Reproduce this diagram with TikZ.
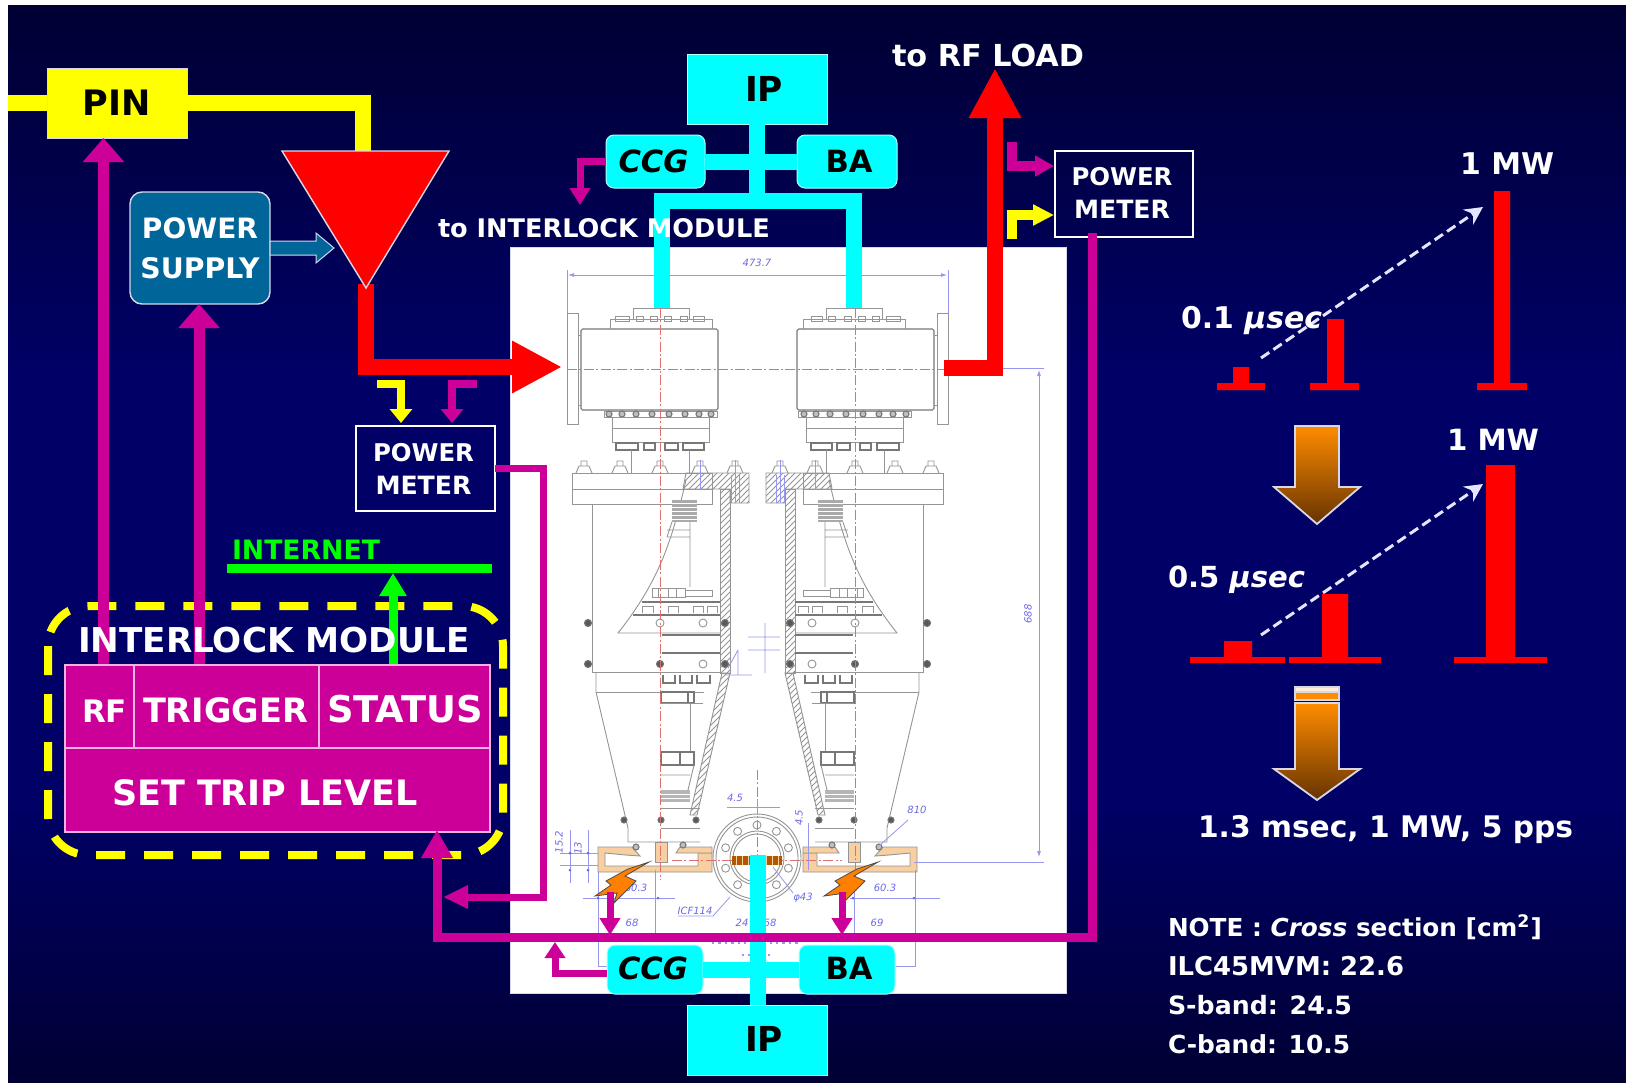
\documentclass[tikz,border=0pt]{standalone}
\usepackage{fontspec}
\setmainfont{DejaVu Sans}
\usetikzlibrary{arrows.meta,patterns,calc}
\definecolor{navyd}{HTML}{000033}
\definecolor{navym}{HTML}{000066}
\definecolor{mag}{HTML}{CC0099}
\definecolor{cya}{HTML}{00FFFF}
\definecolor{yel}{HTML}{FFFF00}
\definecolor{psblue}{HTML}{006699}
\definecolor{edge}{HTML}{D8D8E8}
\definecolor{cadg}{HTML}{959595}
\definecolor{dimb}{HTML}{6A6AE8}
\definecolor{ctrr}{HTML}{E07070}
\definecolor{cu}{HTML}{F7CFA0}
\pgfdeclareverticalshading{slidebg}{100bp}{color(0bp)=(navyd); color(25bp)=(navyd); color(38bp)=(navym); color(58bp)=(navym); color(75bp)=(navyd); color(100bp)=(navyd)}
\newcommand\fw[2]{\resizebox{\dimexpr #1pt/2\relax}{!}{#2}}
\tikzset{
  wh/.style={text=white,font=\bfseries,inner sep=0pt,outer sep=0pt,anchor=base west},
  boxnode/.style={inner sep=0pt,outer sep=0pt,font=\bfseries,align=center},
  cyanbox/.style={boxnode,fill=cya,draw=white!70!cya,line width=.5pt,rounded corners=4pt,text=black},
  plainbox/.style={boxnode,fill=cya,draw=white!70!cya,line width=.5pt,text=black},
  meterbox/.style={boxnode,draw=white,line width=.8pt,text=white,font=\bfseries\fontsize{12}{16.5}\selectfont},
  modcell/.style={boxnode,fill=mag,draw=white!70!mag,line width=.7pt},
  cyanwire/.style={draw=cya,line width=8pt},
  yelwire/.style={draw=yel,line width=8pt},
  redwire/.style={draw=red,line width=8pt},
  magbig/.style={draw=mag,line width=5.5pt,-{Triangle[length=12pt,width=20pt]}},
  magthin/.style={draw=mag,line width=4pt,-{Triangle[length=7pt,width=11pt]}},
  dashw/.style={draw=white!90!blue,line width=1.5pt,dash pattern=on 5pt off 2.5pt,-{Stealth[length=9pt,width=9pt]}},
  bigdown/.style={draw=edge,line width=.9pt,top color=orange!90!yellow,bottom color=black!60!orange},
  cad/.style={draw=cadg,line width=.45pt},
  cadk/.style={draw=cadg!80!black,line width=.55pt},
  dim/.style={draw=dimb!70,line width=.4pt},
  ctr/.style={draw=ctrr,line width=.4pt,dash pattern=on 5pt off 1.2pt on 1pt off 1.2pt},
  hat/.style={cad,pattern=north east lines,pattern color=cadg},
  dtxt/.style={text=dimb,font=\itshape\fontsize{5}{6}\selectfont,inner sep=0pt},
}
\newcommand\cadhalf{%
  \draw[cad] (567,313) rectangle (578,424);
  \draw[cadk,rounded corners=.8pt] (581,329) rectangle (718,410);
  \draw[cad] (578,335)--(581,335) (578,405)--(581,405);
  \draw[cad] (610,329)--(610,319)--(712,319)--(712,329);
  \draw[cad] (633,319)--(633,308)--(689,308)--(689,319);
  \foreach \a/\b in {615/629,636/643,650/657,664/671,680/687,693/704}{\draw[cad] (\a,316) rectangle (\b,321);}
  \draw[cad] (604,411) rectangle (717,417);
  \foreach \a in {609,622,636,652,669,685,699,711}{\filldraw[cadk,fill=cadg!60] (\a,414) circle (3);}
  \draw[cad] (612,417) rectangle (709,442) (612,428)--(709,428);
  \foreach \a/\b in {616/638,644/655,665/678,683/704}{\draw[cadk] (\a,443) rectangle (\b,450);}
  \draw[cad] (631,450)--(631,473) (689,450)--(689,473);
  \draw[cad] (572,473) rectangle (712,504) (572,489)--(712,489);
  \path[hat] (686,473)--(749,473)--(749,503)--(730,503)--(730,489)--(683,489)--cycle;
  \foreach \a in {584,620,660,700,735}{\draw[cad] (\a-8,473)--(\a-5,466)--(\a+5,466)--(\a+8,473) (\a-3,466)--(\a-3,461)--(\a+3,461)--(\a+3,466);}
  \draw[dim] (700,460)--(700,490) (735,460)--(735,503) (731,475)--(731,503) (739,475)--(739,503);
  \path[hat] (720,489) rectangle (730,673);
  \path[hat] (722,673)--(730,673)--(697,815)--(690,815)--cycle;
  \draw[cad] (686,480) .. controls (672,540) and (660,580) .. (618,633) -- (720,633);
  \fill[cadg!80] (672,500) rectangle (697,522);
  \foreach \a in {503,507,511,515,519}{\draw[white,line width=.3pt] (672,\a)--(697,\a);}
  \draw[cad] (672,522)--(667,537) (667,530)--(690,530) (667,537)--(690,537) (690,522)--(690,587);
  \draw[cad] (652,588) rectangle (685,597) (658,588)--(658,597) (668,588)--(668,597) (676,588)--(676,597);
  \draw[cad] (685,590) rectangle (712,596);
  \draw[cadk] (642,602)--(720,602);
  \foreach \a/\b in {642/653,668/678,693/703,707/717}{\draw[cad] (\a,613)--(\a,606)--(\b,606)--(\b,613);}
  \draw[cadk] (633,615)--(720,615);
  \draw[cad] (592,504)--(592,672)--(722,672);
  \draw[cadk] (662,635)--(720,635) (662,653)--(720,653);
  \foreach \a/\b in {588/623,588/664,660/664,725/623,725/664}{\filldraw[cadk,fill=cadg!60!black] (\a,\b) circle (3.5);}
  \foreach \a/\b in {703/623,703/664,660/623}{\draw[cad] (\a,\b) circle (4);}
  \draw[cad] (596,672)--(596,692)--(628,828)--(628,842)--(700,842);
  \draw[cad] (596,692)--(704,692);
  \foreach \a/\b in {663/675,680/692,697/710}{\draw[cadk] (\a,675)--(\a,683)--(\b,683)--(\b,675);}
  \draw[cadk] (661,692) rectangle (694,703) (688,692)--(688,703);
  \draw[cad] (690,703)--(690,752) (661,703)--(703,703);
  \draw[cadk] (661,752) rectangle (694,765) (680,752)--(680,765);
  \draw[cad] (661,775)--(690,775) (694,765)--(688,790);
  \fill[cadg!70] (661,790) rectangle (690,802);
  \draw[white,line width=.3pt] (661,794)--(690,794) (661,798)--(690,798);
  \draw[cad] (661,808)--(700,808) (661,828)--(700,828);
  \foreach \a in {624,661,696}{\filldraw[cadk,fill=cadg!60!black] (\a,820) circle (3);}
  \filldraw[cad,fill=cu] (598,872)--(598,847)--(632,847)--(640,856)--(626,855)--(605,853)--(605,866)--(698,866)--(698,853)--(712,853)--(712,872)--cycle;
  \filldraw[cad,fill=cu] (676,853)--(680,847)--(712,847)--(712,853)--cycle;
  \filldraw[cad,fill=cu] (655,842) rectangle (667,862);
  \filldraw[cadk,fill=cadg!60] (636,847) circle (3) (683,845) circle (3);
  \draw[ctr] (660,308)--(660,880);
}
\begin{document}
\begin{tikzpicture}[x=0.5pt,y=-0.5pt]
\useasboundingbox (0,0) rectangle (1626,1082);
\fill[white] (0,0) rectangle (1626,1082);
\shade[shading=slidebg] (8,5) rectangle (1626,1082);
% white drawing panel
\path[fill=white,draw=edge,line width=.5pt] (510,247) rectangle (1066,993);
\cadhalf
\begin{scope}[shift={(1515,0)},xscale=-1]
\cadhalf
\end{scope}
% drawing: centre parts
\draw[ctr] (567,369)--(1003,369);
\draw[ctr] (757,770)--(757,880) (672,860)--(842,860);
\foreach \r in {44,41,27,24}{\draw[cad] (757,858) circle (\r);}
\foreach \t in {18,54,90,126,162,198,234,270,306,342}{\draw[cad] ($(757,858)+(\t:33)$) circle (4);}
\fill[orange!70!black] (732,856) rectangle (782,865);
\foreach \a in {736,742,748,766,772,778}{\draw[cu,line width=.5pt] (\a,856)--(\a,865);}
% drawing: dimensions
\draw[dim,{Latex[length=3pt,width=2pt]}-{Latex[length=3pt,width=2pt]}] (568,275)--(947,275);
\draw[dim] (567,270)--(567,313) (948,270)--(948,313);
\node[dtxt] (d4737) at (757,263) {473.7};
\draw[dim,{Latex[length=3pt,width=2pt]}-{Latex[length=3pt,width=2pt]}] (1039,370)--(1039,857);
\draw[dim] (1003,368)--(1044,368) (914,862)--(1044,862);
\node[dtxt,rotate=90] (d688) at (1028,614) {688};
\draw[dim] (727,807)--(780,807) (757,800)--(757,815) (808,823)--(808,870);
\node[dtxt] (d45a) at (735,798) {4.5};
\node[dtxt,rotate=90] (d45b) at (799,818) {4.5};
\node[dtxt] (d810) at (917,810) {810};
\draw[dim] (908,820)--(880,845);
\node[dtxt] (dicf) at (695,911) {ICF114};
\draw[dim] (678,916)--(713,916)--(730,897);
\node[dtxt] (dphi) at (803,898) {φ43};
\draw[dim] (773,867)--(793,893);
\node[dtxt] (d603r) at (885,888) {60.3};
\node[dtxt] (d603l) at (636,888) {60.3};
\node[dtxt] (d68a) at (632,923) {68};
\node[dtxt] (d24) at (742,923) {24};
\node[dtxt] (d68b) at (770,923) {68};
\node[dtxt] (d69) at (877,923) {69};
\node[dtxt,rotate=90] (d152) at (559,842) {15.2};
\node[dtxt,rotate=90] (d13) at (578,848) {13};
\draw[dim] (583,898)--(675,898) (850,898)--(940,898) (560,853)--(598,853) (560,865)--(598,865);
\draw[dim] (598,872)--(598,967) (655,870)--(655,933) (915,870)--(915,967) (854,870)--(854,933);
\draw[dim] (570,830)--(570,883) (588,830)--(588,883);
\draw[dim] (765,623)--(765,673) (748,637)--(780,637) (748,650)--(780,650) (738,650)--(738,675) (725,675)--(752,675) (738,650)--(728,668);
\draw[dim] (598,966)--(608,966) (894,966)--(915,966);
\fill[dimb] (598,898) circle (1.5) (658,898) circle (1.5) (853,898) circle (1.5) (914,898) circle (1.5) (570,853) circle (1.5) (588,853) circle (1.5) (570,870) circle (1.5) (588,870) circle (1.5);
\draw[dimb!70,line width=1.2pt,dotted] (712,943)--(800,943) (742,955)--(772,955);
% lightning bolts
\foreach \dx in {0,229}{
  \filldraw[draw=black!70,line width=.4pt,fill=orange,shift={(\dx,1)}] (649,861)--(625,875)--(636,880)--(614,902)--(617,892)--(595,895)--(611,884)--(606,880)--(628,868)--cycle;
}
% free ends
\coordinate (yin) at (8,103);
\coordinate (ampL) at (282,151);
\coordinate (ampR) at (449,151);
\coordinate (ampB) at (366,288);
\coordinate (ampT) at (363,151);
\coordinate (rfA) at (366,284);
\coordinate (rfTip) at (562,367);
\coordinate (lineL) at (944,367.5);
\coordinate (lineR) at (995,367.5);
\coordinate (rfLoad) at (995,68);
\coordinate (ductL) at (662,308);
\coordinate (ductR) at (854,308);
\coordinate (ductJ) at (757,201);
\coordinate (ductB) at (758,855);
% boxes
\node[plainbox,minimum width=70pt,minimum height=35pt] (ipt) at (757,89) {\hspace*{7pt}\fw{38}{IP}};
\node[plainbox,minimum width=70pt,minimum height=35pt] (ipb) at (757,1040) {\hspace*{7pt}\raisebox{1pt}{\fw{38}{IP}}};
\node[cyanbox,minimum width=49.5pt,minimum height=26.5pt] (ccgt) at (655.5,161.5) {\hspace*{-2pt}\fw{70}{\itshape CCG}};
\node[cyanbox,minimum width=50pt,minimum height=26.5pt] (bat) at (847,161.5) {\hspace*{2pt}\fw{47}{BA}};
\node[cyanbox,minimum width=48pt,minimum height=24.5pt] (ccgb) at (655,969.5) {\hspace*{-2pt}\raisebox{1.5pt}{\fw{70}{\itshape CCG}}};
\node[cyanbox,minimum width=48pt,minimum height=24.5pt] (bab) at (847,969.5) {\hspace*{2pt}\raisebox{1.5pt}{\fw{47}{BA}}};
% cyan ducts
\draw[cyanwire] (ipt.south) -- (ductJ);
\draw[cyanwire] (ccgt.east) -- (bat.west);
\draw[cyanwire] (ductL) |- (ductJ) -| (ductR);
\draw[cyanwire] (ccgb.east) -- (bab.west);
\draw[cyanwire] (ipb.north -| ductB) -- (ductB);
% label printed over the duct
\node[wh] (lint) at (438,237) {\fw{332}{to INTERLOCK MODULE}};
% interlock dashed frame
\draw[yel,line width=4pt,dash pattern=on 14.5pt off 9.5pt,rounded corners=20pt] (48,606) rectangle (503,855);
% PIN and yellow line
\node[boxnode,fill=yel,draw=edge,line width=.5pt,minimum width=70pt,minimum height=35pt] (pin) at (117,103) {\fw{68}{PIN}};
\draw[yelwire] (yin) -- (pin.west);
\draw[yelwire] (pin.east) -| (ampT);
% power supply
\node[boxnode,fill=psblue,draw=edge,line width=.7pt,rounded corners=6pt,minimum width=70pt,minimum height=56pt,text=white,font=\bfseries\fontsize{12}{20}\selectfont] (ps) at (200,248) {\raisebox{-1pt}{\fw{116}{POWER}}\\\raisebox{-1pt}{\fw{119}{SUPPLY}}};
\draw[draw=edge,line width=.5pt,fill=psblue] (ps.east) ++(0,-7) -- ++(46,0) -- ++(0,-8) -- ++(18,15) -- ++(-18,15) -- ++(0,-8) -- ++(-46,0) -- cycle;
% RF chain
\draw[redwire,-{Triangle[length=25pt,width=24.5pt]}] (rfA) |- (rfTip);
\draw[redwire,-{Triangle[length=25pt,width=24.5pt]}] (lineL) -- (lineR) -- (rfLoad);
\draw[draw=edge,fill=red,line width=.7pt] (ampL) -- (ampR) -- (ampB) -- cycle;
\node[wh] (lrf) at (892,66) {\fw{192}{to RF LOAD}};
% power meters
\node[meterbox,minimum width=69.5pt,minimum height=42.5pt] (pml) at (425.5,468.5) {\hspace*{-2pt}\fw{101}{POWER}\\\hspace*{-2pt}\fw{96}{METER}};
\node[meterbox,minimum width=69pt,minimum height=43pt] (pmr) at (1124,194) {\hspace*{-2pt}\raisebox{1pt}{\fw{101}{POWER}}\\\hspace*{-2pt}\raisebox{1pt}{\fw{96}{METER}}};
\coordinate (ya) at (377,384);\coordinate (yb) at (401,423);
\coordinate (ma) at (477,384);\coordinate (mb) at (452,423);
\draw[yel,line width=4pt,-{Triangle[length=7pt,width=11pt]}] (ya) -| (yb);
\draw[magthin] (ma) -| (mb);
\coordinate (mc) at (1012,142);\coordinate (md) at (1054,166);
\coordinate (yc) at (1012,239);\coordinate (yd) at (1054,215);
\draw[magthin,line width=5pt,-{Triangle[length=9.5pt,width=10pt]}] (mc) |- (md);
\draw[yel,line width=5pt,-{Triangle[length=10.5pt,width=10pt]}] (yc) |- (yd);
% interlock module
\coordinate (rfOut) at (103.5,665);
\coordinate (trigOut) at (199,665);
\coordinate (statOut) at (393,665);
\coordinate (netL) at (227,568.5);
\coordinate (netR) at (492,568.5);
\coordinate (netIn) at (393,573);
\draw[magbig] (rfOut) -- (pin.south -| rfOut);
\draw[magbig] (trigOut) -- (ps.south -| trigOut);
\draw[green,line width=4.5pt] (netL) -- (netR);
\draw[green,line width=4.5pt,-{Triangle[length=11.5pt,width=13pt]}] (statOut) -- (netIn);
\node[modcell,minimum width=34.5pt,minimum height=41.5pt] (cellrf) at (99.5,706.5) {};
\node[modcell,minimum width=92.5pt,minimum height=41.5pt] (celltr) at (226.5,706.5) {};
\node[modcell,minimum width=85.5pt,minimum height=41.5pt] (cellst) at (404.5,706.5) {};
\node[modcell,minimum width=212.5pt,minimum height=42pt] (cellset) at (277.5,790) {};
\node[wh] (tim) at (78,652) {\fw{392}{INTERLOCK MODULE}};
\node[wh] (trf) at (82,722) {\fw{45}{RF}};
\node[wh] (ttr) at (143,722) {\fw{165}{TRIGGER}};
\node[wh] (tst) at (327,722) {\fw{156}{STATUS}};
\node[wh] (tset) at (112,805) {\fw{306}{SET TRIP LEVEL}};
\node[wh,text=green] (tnet) at (232,559) {\fw{148}{INTERNET}};
% magenta signal lines
\coordinate (pmOut) at (1092.5,233);
\coordinate (busR) at (1092.5,937);
\coordinate (imIn) at (437,830);
\draw[magbig,line width=4.5pt,-{Triangle[length=14pt,width=15pt]}] (pmOut) -- (busR) -| (imIn);
\coordinate (pmlV) at (543,897);
\coordinate (pmlTip) at (443,897);
\draw[draw=mag,line width=3.5pt,-{Triangle[length=12.5pt,width=11pt]}] (pml.east) -| (pmlV) -- (pmlTip);
\coordinate (ccgtTip) at (580,205);
\draw[draw=mag,line width=3.5pt,-{Triangle[length=8.5pt,width=10pt]}] (ccgt.west) -| (ccgtTip);
\coordinate (ccgbV) at (555,973);
\coordinate (ccgbTip) at (555,942);
\draw[draw=mag,line width=3.5pt,-{Triangle[length=8pt,width=10pt]}] (ccgb.west |- ccgbV) -- (ccgbV) -- (ccgbTip);
\coordinate (a1) at (610,892);\coordinate (a1t) at (610,935);
\coordinate (a2) at (842,892);\coordinate (a2t) at (842,935);
\draw[draw=mag,line width=3.5pt,-{Triangle[length=8.5pt,width=10pt]}] (a1) -- (a1t);
\draw[draw=mag,line width=3.5pt,-{Triangle[length=8.5pt,width=10pt]}] (a2) -- (a2t);
% right column
\fill[red] (1217,383) rectangle (1265,390) (1233,367) rectangle (1249,385);
\fill[red] (1310,383) rectangle (1359,390) (1327,319) rectangle (1344,385);
\fill[red] (1477,383) rectangle (1527,390) (1494,191) rectangle (1510,385);
\coordinate (da) at (1261,358);\coordinate (db) at (1483,207);
\draw[dashw] (da) -- (db);
\node[wh] (t1mwa) at (1460,174) {\fw{94}{1 MW}};
\node[wh] (t01) at (1181,328) {\fw{141}{0.1 \itshape μsec}};
\draw[bigdown] (1295,426)--(1339,426)--(1339,487)--(1360,487)--(1317,524)--(1274,487)--(1295,487)--cycle;
\fill[red] (1190,657) rectangle (1285,663) (1224,641) rectangle (1252,660);
\fill[red] (1289,657) rectangle (1381,663) (1322,594) rectangle (1348,660);
\fill[red] (1454,657) rectangle (1547,663) (1486,465) rectangle (1515,660);
\coordinate (dc) at (1261,635);\coordinate (dd) at (1483,484);
\draw[dashw] (dc) -- (dd);
\node[wh] (t1mwb) at (1447,450) {\fw{92}{1 MW}};
\node[wh] (t05) at (1168,587) {\fw{137}{0.5 \itshape μsec}};
\filldraw[draw=edge,line width=.6pt,fill=white!85!orange] (1295,687) rectangle (1339,692);
\filldraw[draw=edge,line width=.6pt,fill=orange!90!yellow] (1295,692) rectangle (1339,700);
\draw[bigdown] (1295,703)--(1339,703)--(1339,769)--(1360,769)--(1317,800)--(1274,769)--(1295,769)--cycle;
\node[wh] (tprf) at (1198,837) {\fw{375}{1.3 msec, 1 MW, 5 pps}};
\node[wh] (tn1) at (1168,936) {\fw{374}{NOTE : {\itshape Cross} section [cm\textsuperscript{2}]}};
\node[wh] (tn2) at (1168,975) {\fw{236}{ILC45MVM: 22.6}};
\node[wh] (tn3) at (1168,1014) {\fw{184}{S-band: 24.5}};
\node[wh] (tn4) at (1168,1053) {\fw{182}{C-band: 10.5}};
\end{tikzpicture}
\end{document}
